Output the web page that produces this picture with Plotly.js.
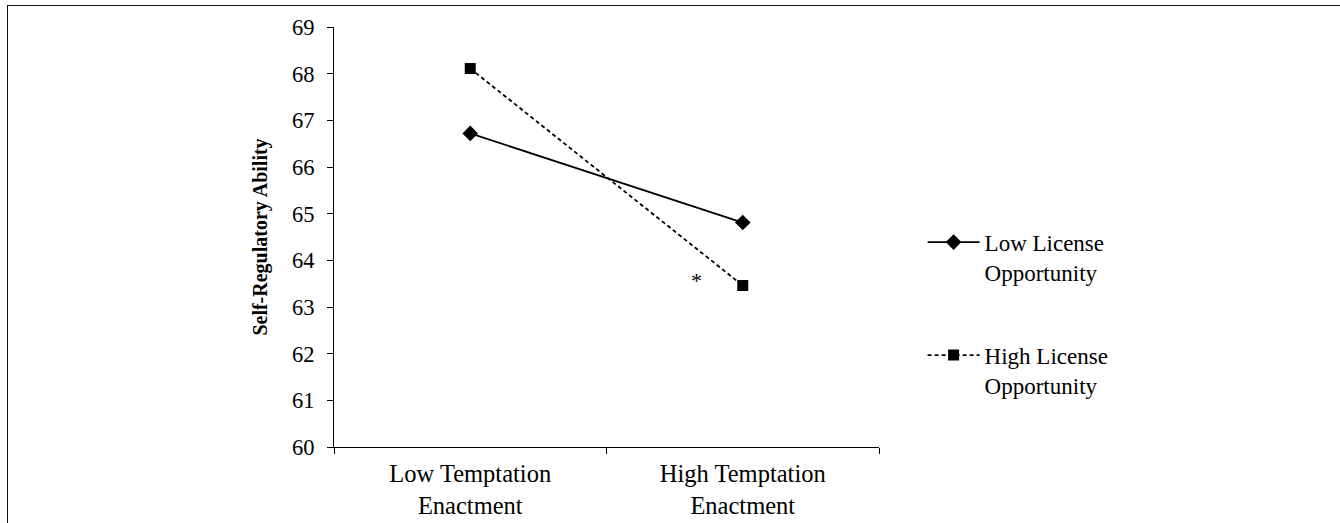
<!DOCTYPE html>
<html>
<head>
<meta charset="utf-8">
<script src="https://cdn.plot.ly/plotly-3.0.1.min.js"></script>
<style>
  html, body { margin: 0; padding: 0; background: #fff; }
  #wrap { position: relative; width: 1340px; height: 523px; overflow: hidden; }
  #chart { position: absolute; left: 0; top: 0; width: 1340px; height: 523px; }
  #frame { position: absolute; left: 7px; top: 5px; right: -10px; bottom: -10px;
           border-top: 1.5px solid #111; border-left: 1.5px solid #111; pointer-events: none; }
</style>
</head>
<body>
<div id="wrap">
  <div id="chart"></div>
  <div id="frame"></div>
</div>
<script>
// ---- data ----
const categories = ['Low Temptation<br>Enactment', 'High Temptation<br>Enactment'];
const seriesNames = ['Low License<br>Opportunity', 'High License<br>Opportunity'];
const lowLicense = [66.72, 64.81];
const highLicense = [68.11, 63.46];
const yTickValues = [60, 61, 62, 63, 64, 65, 66, 67, 68, 69];
const yTitle = 'Self-Regulatory Ability';
const starNote = { text: '*', x: 0.83, y: 63.56 };

const FONT = 'Liberation Serif, Times New Roman, serif';

const traces = [
  {
    x: categories, y: lowLicense, name: seriesNames[0], type: 'scatter', mode: 'lines+markers',
    line: { color: '#000', width: 1.8, dash: 'solid' },
    marker: { symbol: 'diamond', size: 12, color: '#000' },
    legend: 'legend'
  },
  {
    x: categories, y: highLicense, name: seriesNames[1], type: 'scatter', mode: 'lines+markers',
    line: { color: '#000', width: 1.8, dash: '4px,3px' },
    marker: { symbol: 'square', size: 11, color: '#000' },
    legend: 'legend2'
  }
];

const legendCommon = {
  xanchor: 'left', yanchor: 'middle', valign: 'top', itemwidth: 52,
  font: { family: FONT, size: 23, color: '#000' },
  bgcolor: 'rgba(0,0,0,0)', borderwidth: 0
};

const layout = {
  width: 1340, height: 523,
  margin: { l: 334, r: 461, t: 27, b: 76, pad: 0 },
  paper_bgcolor: '#fff', plot_bgcolor: '#fff',
  font: { family: FONT, size: 22, color: '#000' },
  showlegend: true,
  legend: Object.assign({ x: 1.08, y: 0.452 }, legendCommon),
  legend2: Object.assign({ x: 1.08, y: 0.183 }, legendCommon),
  xaxis: {
    type: 'category', range: [-0.5, 1.5], fixedrange: true,
    showline: true, linecolor: '#000', linewidth: 1,
    ticks: 'outside', tickson: 'boundaries', ticklen: 6, tickcolor: '#000', tickwidth: 1,
    ticklabelstandoff: 5,
    showgrid: false, zeroline: false,
    tickfont: { family: FONT, size: 24.5, color: '#000' }
  },
  yaxis: {
    range: [60, 69], tickvals: yTickValues, fixedrange: true,
    showline: true, linecolor: '#000', linewidth: 1,
    ticks: 'outside', ticklen: 6, tickcolor: '#000', tickwidth: 1,
    ticklabelstandoff: 8,
    showgrid: false, zeroline: false,
    tickfont: { family: FONT, size: 22.5, color: '#000' },
    title: { text: '<b>' + yTitle + '</b>', font: { family: FONT, size: 20, color: '#000' }, standoff: 19 }
  },
  annotations: [
    { x: starNote.x, y: starNote.y, xref: 'x', yref: 'y', text: starNote.text, showarrow: false,
      font: { family: FONT, size: 22, color: '#000' } }
  ]
};

Plotly.newPlot('chart', traces, layout, { staticPlot: true, displayModeBar: false });
</script>
</body>
</html>
